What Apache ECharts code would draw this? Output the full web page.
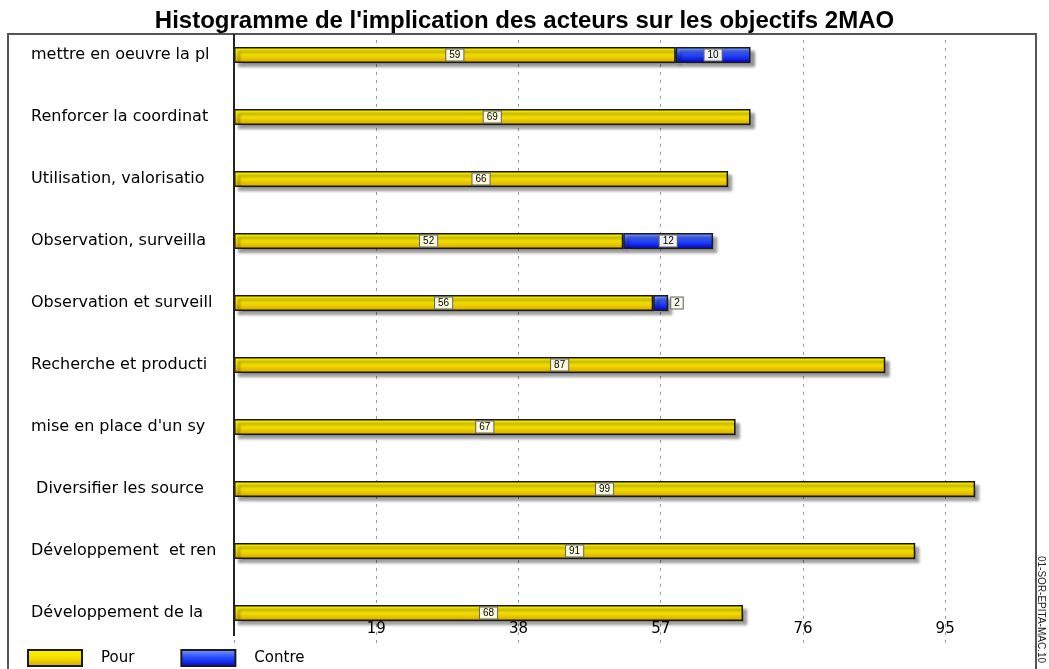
<!DOCTYPE html>
<html>
<head>
<meta charset="utf-8">
<script src="https://cdn.jsdelivr.net/npm/echarts@6/dist/echarts.min.js"></script>
<style>
  html, body { margin: 0; padding: 0; background: #fff; }
  #main { width: 1049px; height: 669px; }
</style>
</head>
<body>
<div id="main"></div>
<script>
// données
const categories = [
  'mettre en oeuvre la pl',
  'Renforcer la coordinat',
  'Utilisation, valorisatio',
  'Observation, surveilla',
  'Observation et surveill',
  'Recherche et producti',
  "mise en place d'un sy",
  ' Diversifier les source',
  'Développement  et ren',
  'Développement de la'
];
const pour = [59, 69, 66, 52, 56, 87, 67, 99, 91, 68];
const contre = [10, null, null, 12, 2, null, null, null, null, null];
const xTicks = [19, 38, 57, 76, 95];

const myChart = echarts.init(document.getElementById('main'));

const labelBox = {
  show: true,
  fontSize: 10,
  fontFamily: 'Liberation Sans',
  color: '#000',
  backgroundColor: 'rgba(255,255,240,0.92)',
  borderColor: '#666',
  borderWidth: 1,
  padding: [1, 3, 0, 3]
};

const yellow = new echarts.graphic.LinearGradient(0, 0, 0, 1, [
  { offset: 0, color: '#fff400' },
  { offset: 0.5, color: '#f4df00' },
  { offset: 1, color: '#d4a400' }
]);
const blue = new echarts.graphic.LinearGradient(0, 0, 0, 1, [
  { offset: 0, color: '#7fa0ff' },
  { offset: 0.45, color: '#2a50ff' },
  { offset: 1, color: '#0000d8' }
]);

const barStyle = {
  borderColor: '#1a1a1a',
  borderWidth: 1.5,
  shadowColor: 'rgba(0,0,0,0.45)',
  shadowBlur: 3,
  shadowOffsetX: 4,
  shadowOffsetY: 4
};

// petits segments : étiquette à droite de la barre
const contreData = contre.map(v => {
  if (v !== null && v < 4) {
    return { value: v, label: { position: 'right', distance: 3 } };
  }
  return v;
});

const option = {
  animation: false,
  title: {
    text: "Histogramme de l'implication des acteurs sur les objectifs 2MAO",
    left: 'center',
    top: 4,
    z: 10,
    textStyle: { fontSize: 24, fontWeight: 'bold', fontFamily: 'Liberation Sans', color: '#000' }
  },
  legend: {
    left: 27,
    top: 649,
    padding: 0,
    icon: 'rect',
    itemWidth: 54,
    itemHeight: 16,
    itemGap: 46,
    textStyle: { fontSize: 15, fontFamily: 'DejaVu Sans', color: '#000', padding: [0, 0, 0, 14] },
    data: ['Pour', 'Contre']
  },
  grid: { left: 234, right: 14, top: 24, height: 620 },
  xAxis: {
    type: 'value',
    min: 0,
    max: 107,
    interval: 19,
    axisLine: { show: false },
    axisTick: { show: false },
    axisLabel: {
      margin: -22,
      fontSize: 15,
      fontFamily: 'DejaVu Sans',
      color: '#000',
      showMinLabel: false,
      showMaxLabel: false,
      formatter: v => (xTicks.indexOf(v) >= 0 ? String(v) : '')
    },
    splitLine: { show: true, lineStyle: { color: '#999', type: [3, 5], width: 1 } }
  },
  yAxis: {
    type: 'category',
    inverse: true,
    data: categories,
    axisLine: { show: false },
    axisTick: { show: false },
    axisLabel: {
      align: 'left',
      margin: 203,
      fontSize: 16,
      fontFamily: 'DejaVu Sans',
      color: '#000'
    }
  },
  graphic: [
    {
      type: 'rect',
      shape: { x: 0, y: 0, width: 1049, height: 33 },
      style: { fill: '#fff' },
      z: 1
    },
    {
      type: 'rect',
      shape: { x: 8, y: 34, width: 1028, height: 700 },
      style: { fill: 'none', stroke: '#555', lineWidth: 2 },
      z: 3
    },
    {
      type: 'line',
      shape: { x1: 234, y1: 34, x2: 234, y2: 636 },
      style: { stroke: '#222', lineWidth: 2 },
      z: 5
    },
    {
      type: 'text',
      x: 1046,
      y: 556,
      rotation: -Math.PI / 2,
      style: { text: '01-SOR-EPITA-MAC.10', fontSize: 10, fontFamily: 'Liberation Sans', fill: '#222' },
      z: 4
    }
  ],
  series: [
    {
      name: 'Pour',
      type: 'bar',
      stack: 'total',
      barWidth: 16,
      data: pour,
      itemStyle: Object.assign({ color: yellow }, barStyle),
      label: Object.assign({ position: 'inside' }, labelBox)
    },
    {
      name: 'Contre',
      type: 'bar',
      stack: 'total',
      barWidth: 16,
      data: contreData,
      itemStyle: Object.assign({ color: blue }, barStyle),
      label: Object.assign({ position: 'inside' }, labelBox)
    }
  ]
};

myChart.setOption(option);
</script>
</body>
</html>
